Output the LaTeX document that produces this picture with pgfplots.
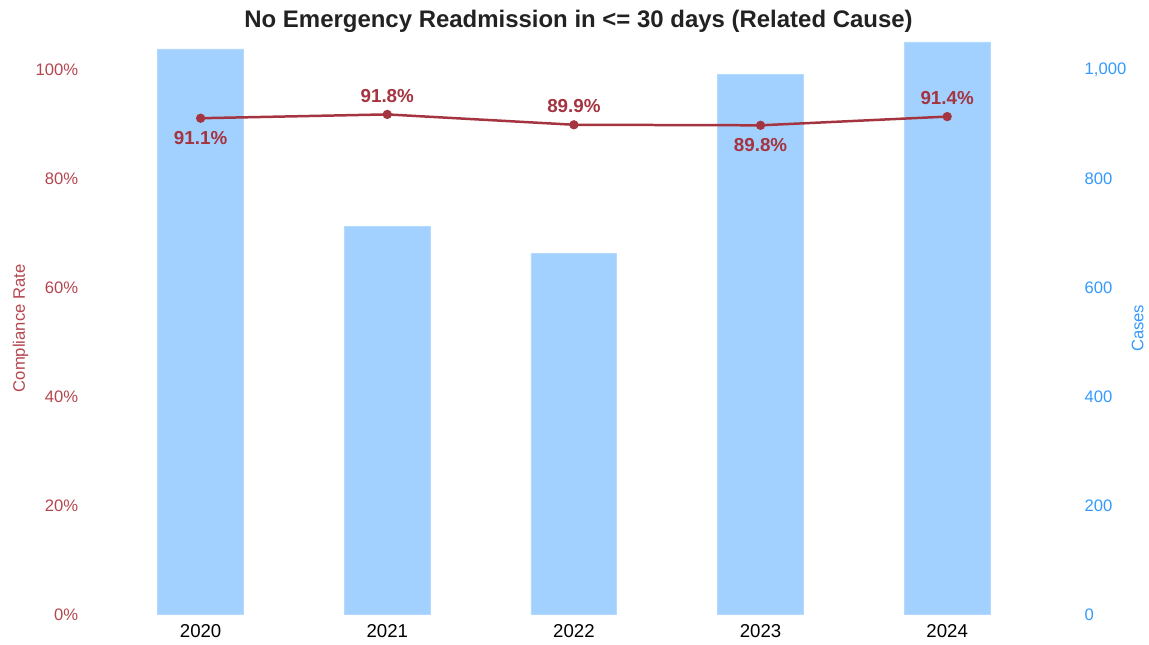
\documentclass[border=0pt]{standalone}
\usepackage{pgfplots}
\pgfplotsset{compat=1.18}
\usepackage{fontspec}
\setmainfont{Liberation Sans}

\definecolor{barblue}{HTML}{A3D1FF}
\definecolor{tickblue}{HTML}{3399FF}
\definecolor{linered}{HTML}{A4343F}
\definecolor{tickred}{HTML}{B4464F}
\definecolor{titlegray}{HTML}{222222}

\pgfplotsset{
  common/.style={
    scale only axis,
    width=561pt, height=344.4pt,
    xmin=-0.5, xmax=4.5,
    ymin=0,
    axis line style={draw=none},
    major tick style={draw=none},
    /pgf/number format/assume math mode=true,
  },
}

\begin{document}
\begin{tikzpicture}
% bars: cases, right axis
\begin{axis}[
  common,
  ymax=1051,
  axis y line*=right,
  axis x line*=bottom,
  xtick={0,1,2,3,4},
  xticklabels={2020,2021,2022,2023,2024},
  xticklabel style={font=\fontsize{11.2}{13}\selectfont, text=black, yshift=-2.5pt},
  ytick={0,200,400,600,800,1000},
  yticklabel style={font=\fontsize{10}{12}\selectfont, text=tickblue, xshift=23pt},
  /pgf/number format/.cd, 1000 sep={,}, /pgfplots/.cd,
  ylabel={Cases},
  every axis y label/.style={at={(axis description cs:1.104,0.5)}, rotate=90, anchor=center,
    font=\fontsize{10}{12}\selectfont, text=tickblue},
  title={\textbf{No Emergency Readmission in <= 30 days (Related Cause)}},
  title style={font=\fontsize{14.4}{16}\selectfont, text=titlegray, at={(axis description cs:0.505,1)}, anchor=center, yshift=6.6pt},
]
\addplot[ybar, bar width=0.46, fill=barblue, draw=barblue!80!white] coordinates {
  (0,1038) (1,713) (2,663) (3,991) (4,1051)
};
\coordinate (tl) at (rel axis cs:0,1);
\coordinate (br) at (rel axis cs:1,0);
\end{axis}

% line: compliance rate, left axis
\begin{axis}[
  common,
  ymax=105.1,
  axis y line*=left,
  axis x line*=bottom,
  xtick=\empty,
  ytick={0,20,40,60,80,100},
  yticklabel={\pgfmathprintnumber{\tick}\%},
  yticklabel style={font=\fontsize{10}{12}\selectfont, text=tickred, xshift=-14pt},
  ylabel={Compliance Rate},
  every axis y label/.style={at={(axis description cs:-0.093,0.5)}, rotate=90, anchor=center,
    font=\fontsize{10}{12}\selectfont, text=tickred},
]
\addplot[color=linered, line width=1.5pt, mark=*, mark size=2pt, mark options={fill=linered}] coordinates {
  (0,91.1) (1,91.8) (2,89.9) (3,89.8) (4,91.4)
};
% labels above the points
\addplot[draw=none, mark=none,
  nodes near coords={\pgfmathprintnumber[fixed,precision=1,fixed zerofill]{\pgfplotspointmeta}\%},
  point meta=explicit,
  every node near coord/.style={font=\fontsize{11.3}{13}\selectfont\bfseries, text=linered, anchor=center, yshift=11pt},
] coordinates {
  (1,91.8) [91.8] (2,89.9) [89.9] (4,91.4) [91.4]
};
% labels below the points
\addplot[draw=none, mark=none,
  nodes near coords={\pgfmathprintnumber[fixed,precision=1,fixed zerofill]{\pgfplotspointmeta}\%},
  point meta=explicit,
  every node near coord/.style={font=\fontsize{11.3}{13}\selectfont\bfseries, text=linered, anchor=center, yshift=-12pt},
] coordinates {
  (0,91.1) [91.1] (3,89.8) [89.8]
};
\end{axis}
% page edges as in the reference
\path (tl) ++(-64.5pt,25.2pt) coordinate (a);
\path (br) ++(63.9pt,-18pt) coordinate (b);
\path (a) (b);
\end{tikzpicture}
\end{document}
